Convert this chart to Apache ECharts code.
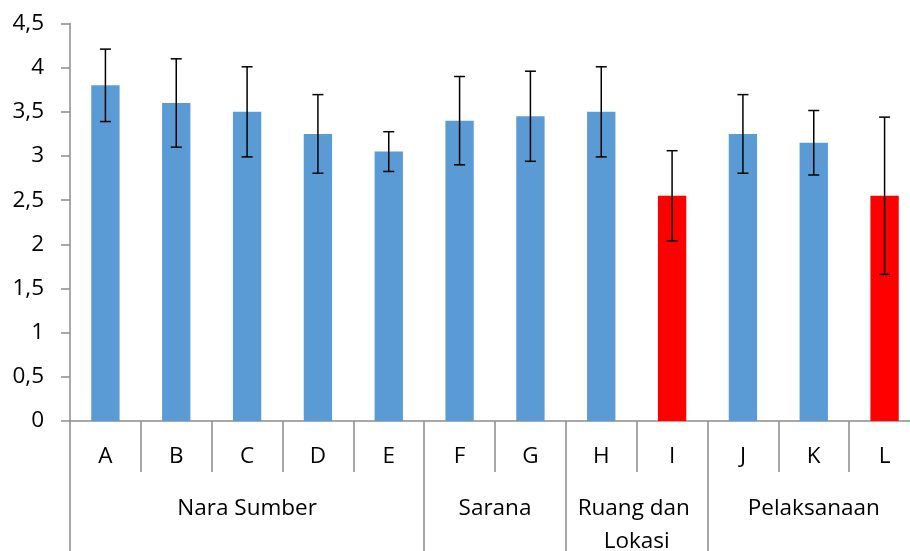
<!DOCTYPE html>
<html>
<head>
<meta charset="utf-8">
<script src="https://cdn.jsdelivr.net/npm/echarts@6/dist/echarts.min.js"></script>
<style>html,body{margin:0;padding:0;background:#fff;}#chart{width:910px;height:551px;}</style>
</head>
<body>
<div id="chart"></div>
<script>
// ---- data ----
const categories = ['A','B','C','D','E','F','G','H','I','J','K','L'];
const means  = [3.8, 3.6, 3.5, 3.25, 3.05, 3.4, 3.45, 3.5, 2.55, 3.25, 3.15, 2.55];
const errors = [0.41, 0.5, 0.51, 0.445, 0.225, 0.5, 0.51, 0.51, 0.51, 0.445, 0.365, 0.89];
const highlighted = ['I','L'];
const groupNames = ['Nara Sumber','Sarana','Ruang dan Lokasi','Pelaksanaan'];
const groupSizes = [5, 2, 2, 3];
const yTicks = [0,0.5,1,1.5,2,2.5,3,3.5,4,4.5];

// ---- derived ----
const FONT = '"Open Sans", "Noto Sans", sans-serif';
const AXIS_COLOR = '#8c8c8c';
const boundaries = [0];
groupSizes.forEach(s => boundaries.push(boundaries[boundaries.length-1] + s));
const groupCenters = groupNames.map((n,i) => (boundaries[i] + boundaries[i+1]) / 2);

const barData = means.map((v,i) => ({
  value: v,
  itemStyle: { color: highlighted.includes(categories[i]) ? '#ff0000' : '#5b9bd5' }
}));
const errData = means.map((v,i) => [i, v - errors[i], v + errors[i]]);

const chart = echarts.init(document.getElementById('chart'), null, {renderer:'canvas'});
chart.setOption({
  animation: false,
  backgroundColor: '#fff',
  grid: { left: 70, right: -10, top: 23.5, bottom: 130, containLabel: false, outerBoundsMode: 'none' },
  xAxis: [
    {
      type: 'category',
      data: categories,
      position: 'bottom',
      boundaryGap: true,
      axisLine: { show: true, lineStyle: { color: AXIS_COLOR, width: 1.5 } },
      axisTick: { show: true, interval: 0, length: 51, lineStyle: { color: AXIS_COLOR, width: 1.5 } },
      axisLabel: { interval: 0, color: '#000', fontFamily: FONT, fontSize: 22.5, margin: 25, lineHeight: 22 },
      splitLine: { show: false }
    },
    {
      type: 'value',
      min: 0, max: categories.length,
      position: 'bottom',
      axisLine: { show: false },
      axisTick: { show: true, customValues: boundaries, length: 140, lineStyle: { color: AXIS_COLOR, width: 1.5 } },
      axisLabel: {
        show: true,
        customValues: groupCenters,
        formatter: (v) => {
          const i = groupCenters.findIndex(c => Math.abs(c - v) < 1e-6);
          return i >= 0 ? groupNames[i] : '';
        },
        color: '#000', fontFamily: FONT, fontSize: 22.5, margin: 71, lineHeight: 33,
        width: 150, overflow: 'break'
      },
      splitLine: { show: false }
    }
  ],
  yAxis: {
    type: 'value',
    min: 0, max: 4.5, interval: 0.5,
    axisLine: { show: true, lineStyle: { color: AXIS_COLOR, width: 1.5 } },
    axisTick: { show: true, inside: false, length: 9, lineStyle: { color: AXIS_COLOR, width: 1.5 } },
    axisLabel: {
      color: '#000', fontFamily: FONT, fontSize: 22.5, margin: 26,
      formatter: (v) => String(v).replace('.', ',')
    },
    splitLine: { show: false }
  },
  series: [
    {
      type: 'bar',
      xAxisIndex: 0,
      data: barData,
      barWidth: '40%',
      itemStyle: { borderWidth: 0 }
    },
    {
      type: 'custom',
      xAxisIndex: 0,
      data: errData,
      encode: { x: 0, y: [1, 2] },
      z: 10,
      renderItem: function (params, api) {
        const x = api.value(0);
        const lo = api.coord([x, api.value(1)]);
        const hi = api.coord([x, api.value(2)]);
        const hw = 5.5;
        const style = { stroke: '#000', lineWidth: 1.5 };
        return {
          type: 'group',
          children: [
            { type: 'line', shape: { x1: hi[0], y1: hi[1], x2: lo[0], y2: lo[1] }, style: style },
            { type: 'line', shape: { x1: hi[0]-hw, y1: hi[1], x2: hi[0]+hw, y2: hi[1] }, style: style },
            { type: 'line', shape: { x1: lo[0]-hw, y1: lo[1], x2: lo[0]+hw, y2: lo[1] }, style: style }
          ]
        };
      }
    }
  ]
});
</script>
</body>
</html>
